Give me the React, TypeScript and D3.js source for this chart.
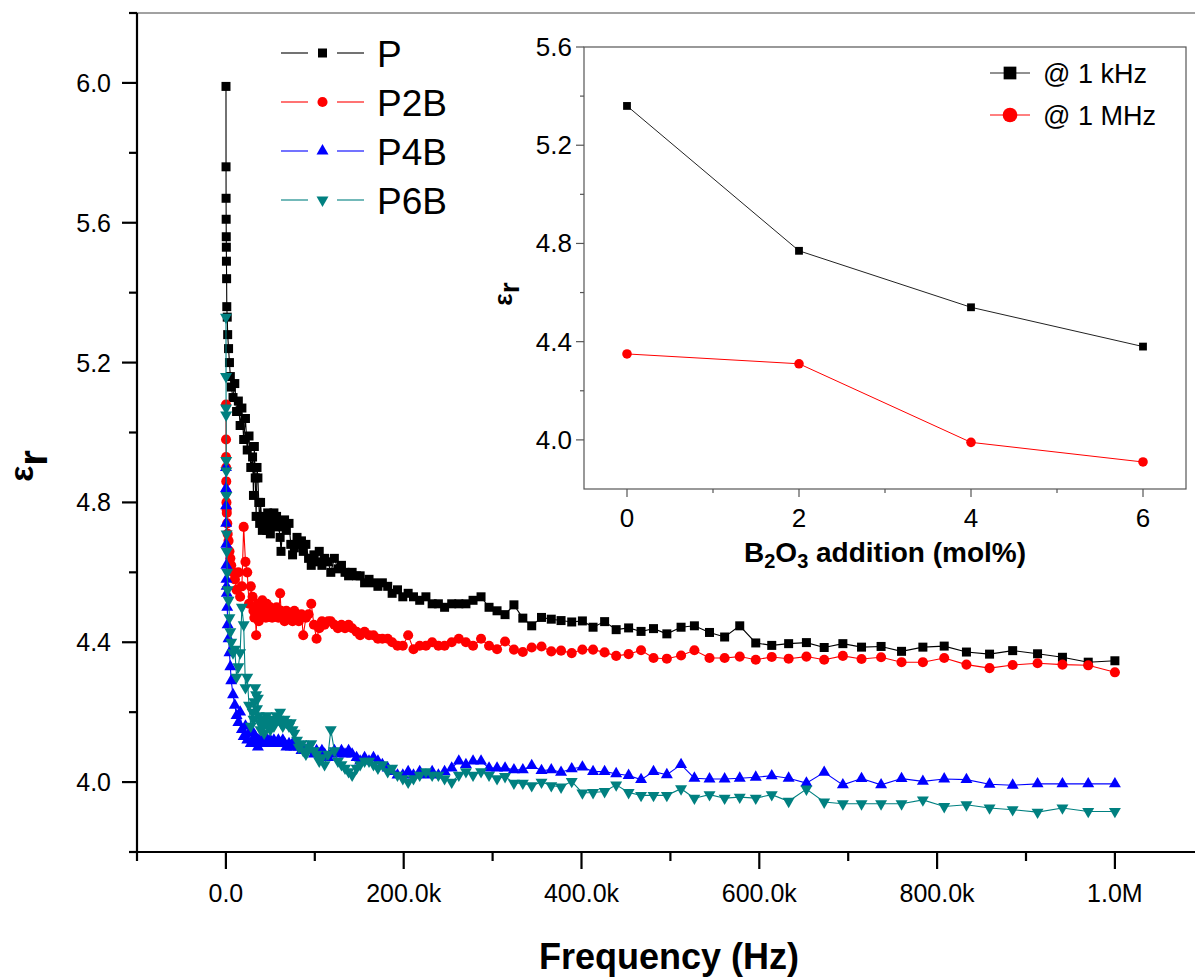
import React from "react";
import * as d3 from "d3";

// frequency in kHz (shared sweep for all samples)
const FREQ_KHZ = [
  0.1, 0.15, 0.2, 0.3, 0.4, 0.5, 0.6, 0.8, 1, 1.5, 2, 3, 4, 5, 6, 8, 10, 12, 14, 16, 18, 20, 22, 24, 26, 28,
  30, 31, 32, 33, 34, 35, 36, 37, 38, 39,
  41, 42, 43, 45, 46, 47, 49, 50, 52, 54,
  55, 57, 59, 61, 62, 64, 66, 68, 71, 73,
  75, 77, 80, 82, 85, 87, 90, 93, 96, 99,
  102, 105, 108, 111, 115, 118, 122, 126, 130, 134,
  138, 142, 147, 151, 156, 161, 166, 171, 176, 182,
  187, 193, 199, 205, 211, 218, 225, 232, 239, 246,
  254, 262, 270, 278, 287, 296, 305,
  314, 324, 334, 344, 355, 366, 377, 389, 401, 413,
  426, 439, 453, 467, 481, 496, 512, 527, 544, 561,
  578, 596, 614, 633, 653, 673, 694, 715, 737, 760,
  784, 808, 833, 859, 885, 913, 941, 970, 1000,
];

const P = [
  5.99, 5.76, 5.67, 5.61, 5.56, 5.53, 5.49, 5.44, 5.36, 5.33,
  5.28, 5.24, 5.2, 5.16, 5.13, 5.1, 5.14, 5.06, 5.09, 5.02,
  5.07, 4.98, 5.04, 4.95, 4.99, 4.9,
  4.93, 4.82, 4.96, 4.87, 4.76, 4.9, 4.87, 4.8, 4.74, 4.8,
  4.72, 4.76, 4.73, 4.75, 4.72, 4.77, 4.74, 4.71, 4.75, 4.77,
  4.73, 4.76, 4.74, 4.7, 4.66, 4.73, 4.75, 4.72, 4.74, 4.68,
  4.65, 4.67, 4.7, 4.68, 4.69, 4.66, 4.68, 4.64, 4.62, 4.65,
  4.63, 4.66, 4.62, 4.64, 4.63, 4.6, 4.64, 4.61, 4.62, 4.6,
  4.59, 4.6, 4.59, 4.59, 4.57, 4.58, 4.57, 4.56, 4.57, 4.56,
  4.54, 4.55, 4.53, 4.54, 4.53, 4.52, 4.53, 4.51, 4.51, 4.5,
  4.51, 4.51, 4.51, 4.52, 4.53, 4.5, 4.49,
  4.479, 4.507, 4.469, 4.447, 4.471, 4.466, 4.462, 4.458, 4.461, 4.443,
  4.459, 4.436, 4.441, 4.431, 4.439, 4.424, 4.443, 4.447, 4.428, 4.415,
  4.447, 4.398, 4.391, 4.396, 4.399, 4.385, 4.396, 4.386, 4.388, 4.374,
  4.386, 4.389, 4.372, 4.366, 4.376, 4.367, 4.357, 4.343, 4.347,
];

const P2B = [
  5.08, 4.98, 4.93, 4.9, 4.86, 4.83, 4.8, 4.78, 4.77, 4.74,
  4.71, 4.69, 4.66, 4.64, 4.62, 4.6, 4.58, 4.55, 4.6, 4.53,
  4.56, 4.73, 4.63, 4.6, 4.51, 4.56,
  4.53, 4.49, 4.47, 4.5, 4.42, 4.48, 4.51, 4.46, 4.5, 4.47,
  4.52, 4.49, 4.5, 4.47, 4.51, 4.49, 4.48, 4.5, 4.47, 4.49,
  4.48, 4.5, 4.47, 4.54, 4.49, 4.48, 4.46, 4.49, 4.47, 4.48,
  4.46, 4.49, 4.47, 4.46, 4.48, 4.42, 4.47, 4.48, 4.51, 4.45,
  4.41, 4.44, 4.46, 4.45, 4.46, 4.46, 4.45, 4.44, 4.45, 4.44,
  4.45, 4.44, 4.43, 4.42, 4.43, 4.42, 4.42, 4.41, 4.41, 4.41,
  4.4, 4.39, 4.39, 4.42, 4.38, 4.39, 4.39, 4.4, 4.39, 4.39,
  4.4, 4.41, 4.4, 4.39, 4.41, 4.39, 4.38,
  4.402, 4.379, 4.372, 4.385, 4.388, 4.374, 4.376, 4.369, 4.379, 4.379,
  4.371, 4.361, 4.366, 4.377, 4.355, 4.353, 4.362, 4.377, 4.355, 4.355,
  4.359, 4.35, 4.358, 4.353, 4.359, 4.35, 4.361, 4.352, 4.357, 4.343,
  4.343, 4.355, 4.336, 4.326, 4.335, 4.34, 4.336, 4.334, 4.314,
];

const P4B = [
  4.9, 4.84, 4.79, 4.74, 4.68, 4.62, 4.58, 4.56, 4.54, 4.5,
  4.45, 4.41, 4.37, 4.33, 4.29, 4.25, 4.22, 4.19, 4.17, 4.2,
  4.15, 4.13, 4.16, 4.12, 4.14, 4.11,
  4.12, 4.14, 4.11, 4.13, 4.11, 4.12, 4.1, 4.12, 4.11, 4.12,
  4.11, 4.12, 4.11, 4.12, 4.11, 4.12, 4.11, 4.12, 4.11, 4.12,
  4.11, 4.11, 4.12, 4.11, 4.11, 4.12, 4.11, 4.1, 4.11, 4.1,
  4.11, 4.1, 4.11, 4.1, 4.09, 4.1, 4.09, 4.1, 4.09, 4.08,
  4.09, 4.08, 4.09, 4.08, 4.07, 4.08, 4.09, 4.08, 4.09, 4.08,
  4.09, 4.08, 4.07, 4.06, 4.07, 4.06, 4.07, 4.06, 4.05, 4.04,
  4.03, 4.02, 4.02, 4.03, 4.02, 4.03, 4.02, 4.03, 4.02, 4.03,
  4.04, 4.06, 4.05, 4.06, 4.06, 4.04, 4.04,
  4.04, 4.035, 4.035, 4.047, 4.033, 4.035, 4.028, 4.038, 4.043, 4.03,
  4.03, 4.024, 4.019, 4.007, 4.03, 4.021, 4.05, 4.011, 4.009, 4.009,
  4.011, 4.014, 4.018, 4.011, 3.997, 4.028, 3.992, 4.01, 3.992, 4.01,
  4.002, 4.009, 4.007, 3.994, 3.991, 3.995, 3.995, 3.995, 3.995,
];

const P6B = [
  5.33, 5.16, 5.07, 5.05, 4.92, 4.89, 4.82, 4.71, 4.66, 4.6,
  4.55, 4.52, 4.47, 4.43, 4.4, 4.37, 4.38, 4.3, 4.33, 4.37,
  4.5, 4.45, 4.27, 4.3, 4.22, 4.16,
  4.2, 4.18, 4.23, 4.27, 4.25, 4.21, 4.24, 4.19, 4.17, 4.15,
  4.18, 4.16, 4.14, 4.17, 4.19, 4.16, 4.17, 4.15, 4.18, 4.16,
  4.17, 4.19, 4.18, 4.2, 4.17, 4.16, 4.18, 4.17, 4.16, 4.17,
  4.15, 4.14, 4.12, 4.1, 4.11, 4.09, 4.08, 4.1, 4.11, 4.09,
  4.08, 4.06, 4.07, 4.05, 4.08, 4.15, 4.09, 4.06, 4.05, 4.04,
  4.03, 4.02, 4.04, 4.05, 4.06, 4.06, 4.05, 4.04, 4.05, 4.03,
  4.04, 4.02, 4.01, 4.0, 4.01, 4.02, 4.03, 4.02, 4.02, 4.01,
  4.0, 4.02, 4.03, 4.02, 4.03, 4.02, 4.01,
  4.016, 3.997, 3.997, 3.99, 4.0, 3.99, 3.986, 4.002, 3.969, 3.97,
  3.973, 3.992, 3.97, 3.962, 3.962, 3.962, 3.981, 3.954, 3.964, 3.954,
  3.957, 3.954, 3.964, 3.945, 3.98, 3.943, 3.938, 3.938, 3.938, 3.938,
  3.949, 3.93, 3.935, 3.926, 3.921, 3.914, 3.926, 3.916, 3.916,
];

const SERIES_NAMES = ["P", "P2B", "P4B", "P6B"];
const SERIES_COLORS = ["#000000", "#ff0000", "#0000ff", "#008080"];
const SERIES_SHAPES = ["square", "circle", "triangleUp", "triangleDown"];

const X_MAJOR_TICKS = [0, 200, 400, 600, 800, 1000];
const X_TICK_LABELS = ["0.0", "200.0k", "400.0k", "600.0k", "800.0k", "1.0M"];
const X_MINOR_TICKS = [-100, 100, 300, 500, 700, 900, 1100];
const Y_MAJOR_TICKS = [4.0, 4.4, 4.8, 5.2, 5.6, 6.0];
const Y_MINOR_TICKS = [3.8, 4.2, 4.6, 5.0, 5.4, 5.8, 6.2];

// inset
const B2O3_MOL = [0, 2, 4, 6];
const AT_1KHZ = [5.36, 4.77, 4.54, 4.38];
const AT_1MHZ = [4.35, 4.31, 3.99, 3.91];
const INSET_X_MAJOR = [0, 2, 4, 6];
const INSET_X_MINOR = [1, 3, 5];
const INSET_Y_MAJOR = [4.0, 4.4, 4.8, 5.2, 5.6];
const INSET_Y_MINOR = [4.2, 4.6, 5.0, 5.4];

const FONT = "'Liberation Sans', Arial, Helvetica, sans-serif";

function symbolPath(shape: string, size: number): string {
  const type =
    shape === "square" ? d3.symbolSquare : shape === "circle" ? d3.symbolCircle : d3.symbolTriangle;
  return d3.symbol().type(type).size(size)() as string;
}

function Marker({ shape, x, y, color, scale = 1 }: any) {
  const size = shape === "square" ? 81 : shape === "circle" ? 80 : 62;
  const d = symbolPath(shape, size * scale);
  const rot = shape === "triangleDown" ? " rotate(180)" : "";
  return <path d={d} transform={`translate(${x},${y})${rot}`} fill={color} />;
}

export default function App() {
  const W = 1195;
  const H = 977;
  const x = d3.scaleLinear().domain([-100, 1200]).range([137, 137 + 1300 * 0.889]);
  const y = d3.scaleLinear().domain([3.8, 6.2]).range([852, 13]);

  const xi = d3.scaleLinear().domain([-0.5, 6.5]).range([584, 1186]);
  const yi = d3.scaleLinear().domain([3.8, 5.6]).range([489, 47]);

  const seriesValues = [P, P2B, P4B, P6B];

  const line = d3
    .line<number>()
    .x((_, i) => x(FREQ_KHZ[i]))
    .y((v) => y(v));

  const insetLine = d3
    .line<number>()
    .x((_, i) => xi(B2O3_MOL[i]))
    .y((v) => yi(v));

  return (
    <svg
      width={W}
      height={H}
      style={{ position: "absolute", left: 0, top: 0, display: "block", background: "#fff" }}
      fontFamily={FONT}
    >
      <rect x={0} y={0} width={W} height={H} fill="#fff" />

      {/* main frame */}
      <line x1={x(-100)} x2={x(1200)} y1={y(6.2)} y2={y(6.2)} stroke="#444" strokeWidth={1} />
      <line x1={x(-100)} x2={x(-100)} y1={y(6.2)} y2={y(3.8)} stroke="#000" strokeWidth={2.2} />
      <line x1={x(-100) - 8} x2={x(1200)} y1={y(3.8)} y2={y(3.8)} stroke="#000" strokeWidth={2.2} />

      {/* y ticks */}
      {Y_MAJOR_TICKS.map((t) => (
        <g key={"ym" + t}>
          <line x1={x(-100) - 15} x2={x(-100)} y1={y(t)} y2={y(t)} stroke="#000" strokeWidth={2.2} />
          <text x={111} y={y(t) + 9} fontSize={25} textAnchor="end" fill="#000">
            {t.toFixed(1)}
          </text>
        </g>
      ))}
      {Y_MINOR_TICKS.map((t) => (
        <line key={"yn" + t} x1={x(-100) - 8} x2={x(-100)} y1={y(t)} y2={y(t)} stroke="#000" strokeWidth={2.2} />
      ))}

      {/* x ticks */}
      {X_MAJOR_TICKS.map((t, i) => (
        <g key={"xm" + t}>
          <line x1={x(t)} x2={x(t)} y1={y(3.8)} y2={y(3.8) + 17} stroke="#000" strokeWidth={2.2} />
          <text x={x(t)} y={902} fontSize={25} textAnchor="middle" fill="#000">
            {X_TICK_LABELS[i]}
          </text>
        </g>
      ))}
      {X_MINOR_TICKS.map((t) => (
        <line key={"xn" + t} x1={x(t)} x2={x(t)} y1={y(3.8)} y2={y(3.8) + 9} stroke="#000" strokeWidth={2.2} />
      ))}

      {/* axis titles */}
      <text x={669} y={969} fontSize={36} fontWeight="bold" textAnchor="middle" fill="#000">
        Frequency (Hz)
      </text>
      <g transform="translate(33,466) rotate(-90)">
        <text x={0} y={0} textAnchor="middle" fontWeight="bold" fill="#000">
          <tspan fontSize={34}>ε</tspan>
          <tspan fontSize={40} dy={14}>r</tspan>
        </text>
      </g>

      {/* data */}
      {seriesValues.map((vals, si) => (
        <g key={SERIES_NAMES[si]}>
          <path d={line(vals) as string} fill="none" stroke={SERIES_COLORS[si]} strokeWidth={1.1} />
          {vals.map((v, i) => (
            <Marker
              key={i}
              shape={SERIES_SHAPES[si]}
              x={x(FREQ_KHZ[i])}
              y={y(v)}
              color={SERIES_COLORS[si]}
            />
          ))}
        </g>
      ))}

      {/* main legend */}
      {SERIES_NAMES.map((name, i) => {
        const cy = 53 + i * 49;
        return (
          <g key={"lg" + name}>
            <line x1={281} x2={308} y1={cy} y2={cy} stroke={SERIES_COLORS[i]} strokeWidth={1.1} />
            <line x1={337} x2={364} y1={cy} y2={cy} stroke={SERIES_COLORS[i]} strokeWidth={1.1} />
            <Marker shape={SERIES_SHAPES[i]} x={322.5} y={cy} color={SERIES_COLORS[i]} />
            <text x={377} y={cy + 13.5} fontSize={37} fill="#000">
              {name}
            </text>
          </g>
        );
      })}

      {/* inset */}
      <g>
        <rect
          x={xi(-0.5)}
          y={yi(5.6)}
          width={xi(6.5) - xi(-0.5)}
          height={yi(3.8) - yi(5.6)}
          fill="none"
          stroke="#555"
          strokeWidth={1.2}
        />
        {INSET_Y_MAJOR.map((t) => (
          <g key={"iym" + t}>
            <line x1={xi(-0.5) - 8} x2={xi(-0.5)} y1={yi(t)} y2={yi(t)} stroke="#555" strokeWidth={1.2} />
            <text x={572} y={yi(t) + 9} fontSize={26} textAnchor="end" fill="#000">
              {t.toFixed(1)}
            </text>
          </g>
        ))}
        {INSET_Y_MINOR.map((t) => (
          <line key={"iyn" + t} x1={xi(-0.5) - 4} x2={xi(-0.5)} y1={yi(t)} y2={yi(t)} stroke="#555" strokeWidth={1.2} />
        ))}
        {INSET_X_MAJOR.map((t) => (
          <g key={"ixm" + t}>
            <line x1={xi(t)} x2={xi(t)} y1={yi(3.8)} y2={yi(3.8) + 8} stroke="#555" strokeWidth={1.2} />
            <text x={xi(t)} y={527} fontSize={26} textAnchor="middle" fill="#000">
              {t}
            </text>
          </g>
        ))}
        {INSET_X_MINOR.map((t) => (
          <line key={"ixn" + t} x1={xi(t)} x2={xi(t)} y1={yi(3.8)} y2={yi(3.8) + 4} stroke="#555" strokeWidth={1.2} />
        ))}

        <text x={885} y={562} fontSize={28} fontWeight="bold" textAnchor="middle" fill="#000">
          <tspan>B</tspan>
          <tspan fontSize={20} dy={6}>2</tspan>
          <tspan dy={-6}>O</tspan>
          <tspan fontSize={20} dy={6}>3</tspan>
          <tspan dy={-6}> addition (mol%)</tspan>
        </text>
        <g transform="translate(512,294) rotate(-90)">
          <text x={0} y={0} textAnchor="middle" fontWeight="bold" fill="#000">
            <tspan fontSize={26}>ε</tspan>
            <tspan fontSize={28} dy={7}>r</tspan>
          </text>
        </g>

        <path d={insetLine(AT_1KHZ) as string} fill="none" stroke="#222" strokeWidth={1} />
        {AT_1KHZ.map((v, i) => (
          <Marker key={"k" + i} shape="square" x={xi(B2O3_MOL[i])} y={yi(v)} color="#000" scale={0.75} />
        ))}
        <path d={insetLine(AT_1MHZ) as string} fill="none" stroke="#ff0000" strokeWidth={1} />
        {AT_1MHZ.map((v, i) => (
          <Marker key={"m" + i} shape="circle" x={xi(B2O3_MOL[i])} y={yi(v)} color="#ff0000" scale={0.9} />
        ))}

        {/* inset legend */}
        <line x1={990} x2={1030} y1={73} y2={73} stroke="#222" strokeWidth={1} />
        <Marker shape="square" x={1010} y={73} color="#000" scale={2} />
        <text x={1043} y={83} fontSize={27} fill="#000">@ 1 kHz</text>
        <line x1={990} x2={1030} y1={115} y2={115} stroke="#ff0000" strokeWidth={1} />
        <Marker shape="circle" x={1010} y={115} color="#ff0000" scale={2.1} />
        <text x={1043} y={125} fontSize={27} fill="#000">@ 1 MHz</text>
      </g>
    </svg>
  );
}
